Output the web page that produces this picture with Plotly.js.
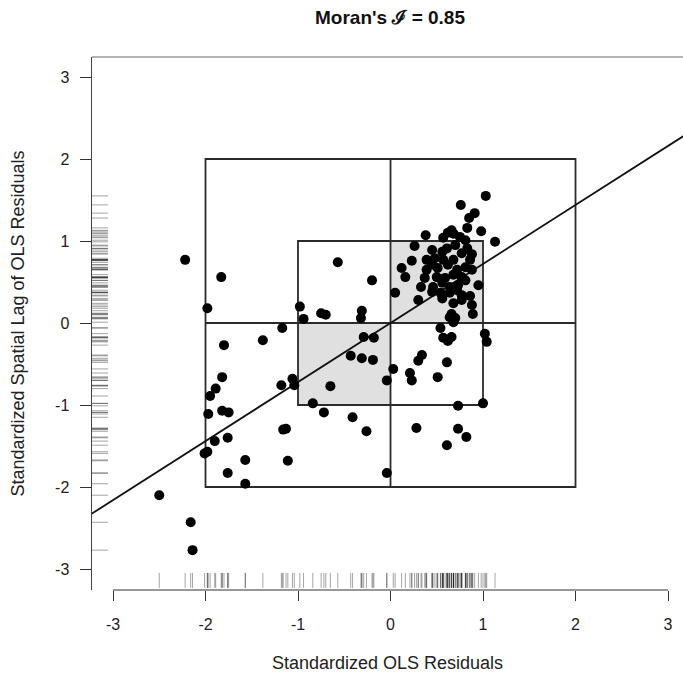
<!DOCTYPE html>
<html>
<head>
<meta charset="utf-8">
<script src="https://cdn.plot.ly/plotly-3.0.1.min.js"></script>
<style>html,body{margin:0;padding:0;background:#fff;}#chart{width:683px;height:679px;}</style>
</head>
<body>
<div id="chart"></div>
<script>
// Standardized OLS residuals (x) and their spatial lag (y)
const residuals = [
 -2.22,-1.83,-1.98,-0.98,-0.94,-0.75,-0.70,-0.57,-0.20,-0.31,-0.32,-1.17,-1.38,-1.80,-0.29,-0.18,-0.43,-0.31,-0.19,-1.82,
 -1.06,-1.89,-1.95,-1.97,-1.82,-1.75,-1.90,-1.76,-2.01,-1.98,-1.57,-1.76,-1.57,-2.50,-2.16,-2.14,-1.18,-1.04,-0.65,-0.84,
 -0.72,-0.41,-0.26,-1.16,-1.13,-1.11,-0.04,-0.04,0.68,0.54,0.57,0.62,0.66,1.02,1.04,0.34,0.30,0.61,0.03,0.21,
 0.23,0.51,0.73,1.00,0.28,0.73,0.82,0.61,1.03,0.76,0.91,0.85,0.83,0.98,1.13,0.38,0.62,0.68,0.57,0.75,
 0.81,0.83,0.26,0.56,0.23,0.39,0.48,0.57,0.68,0.77,0.86,0.88,0.12,0.16,0.39,0.45,0.51,0.62,0.72,0.81,
 0.88,0.37,0.50,0.59,0.68,0.77,0.33,0.46,0.56,0.64,0.73,0.81,0.95,0.45,0.54,0.64,0.72,0.77,0.86,0.05,
 0.30,0.56,0.77,0.68,0.88,0.89,0.66,0.70,0.64,0.70,0.61,0.45,0.66
];
const spatialLag = [
 0.77,0.56,0.18,0.20,0.05,0.12,0.10,0.74,0.52,0.15,0.06,-0.06,-0.21,-0.27,-0.17,-0.18,-0.40,-0.43,-0.45,-0.66,
 -0.68,-0.80,-0.89,-1.11,-1.07,-1.09,-1.44,-1.40,-1.59,-1.57,-1.67,-1.83,-1.96,-2.10,-2.43,-2.77,-0.76,-0.76,-0.77,-0.98,
 -1.09,-1.15,-1.32,-1.30,-1.29,-1.68,-0.70,-1.83,0.01,-0.06,-0.18,-0.22,-0.17,-0.13,-0.23,-0.39,-0.46,-0.48,-0.56,-0.61,
 -0.70,-0.66,-1.01,-0.98,-1.28,-1.29,-1.39,-1.49,1.55,1.44,1.34,1.28,1.16,1.12,0.99,1.07,1.10,1.09,1.04,1.05,
 1.01,0.91,0.94,0.87,0.76,0.77,0.79,0.77,0.77,0.85,0.77,0.84,0.67,0.56,0.65,0.71,0.67,0.71,0.65,0.68,
 0.65,0.55,0.56,0.55,0.59,0.56,0.44,0.44,0.49,0.44,0.46,0.52,0.46,0.38,0.37,0.37,0.40,0.34,0.33,0.37,
 0.28,0.30,0.28,0.24,0.22,0.11,0.11,0.06,0.07,0.95,0.91,0.89,1.13
];
const fitSlope = 0.72;
const tickValues = [-3,-2,-1,0,1,2,3];
const tickLabels = ['-3','-2','-1','0','1','2','3'];
const titleText = "Moran's \u2110 = 0.85";
const xLabel = 'Standardized OLS Residuals';
const yLabel = 'Standardized Spatial Lag of OLS Residuals';

const FONT = "'Liberation Sans', Arial, sans-serif";
const boxLine = {color: '#2b2b2b', width: 1.8};

const shapes = [];
// shaded quadrants
shapes.push({type:'rect', xref:'x', yref:'y', x0:0, x1:1, y0:0, y1:1, fillcolor:'#e0e0e0', line:{width:0}, layer:'below'});
shapes.push({type:'rect', xref:'x', yref:'y', x0:-1, x1:0, y0:-1, y1:0, fillcolor:'#e0e0e0', line:{width:0}, layer:'below'});
// outer and inner squares, cross lines
shapes.push({type:'rect', xref:'x', yref:'y', x0:-2, x1:2, y0:-2, y1:2, line:boxLine, layer:'below'});
shapes.push({type:'rect', xref:'x', yref:'y', x0:-1, x1:1, y0:-1, y1:1, line:boxLine, layer:'below'});
shapes.push({type:'line', xref:'x', yref:'y', x0:0, x1:0, y0:-2, y1:2, line:boxLine, layer:'below'});
shapes.push({type:'line', xref:'x', yref:'y', x0:-2, x1:2, y0:0, y1:0, line:boxLine, layer:'below'});
// rugs
const rugColor = 'rgba(0,0,0,0.36)';
residuals.forEach(v => shapes.push({type:'line', xref:'x', yref:'paper', x0:v, x1:v, y0:0.004, y1:0.032, line:{color:rugColor, width:1}}));
spatialLag.forEach(v => shapes.push({type:'line', xref:'paper', yref:'y', x0:0, x1:0.027, y0:v, y1:v, line:{color:rugColor, width:1}}));
// top frame (gray) and x axis line spanning the ticks
shapes.push({type:'line', xref:'paper', yref:'paper', x0:0, x1:1, y0:1, y1:1, line:{color:'#b4b4b4', width:2}});
shapes.push({type:'line', xref:'x', yref:'paper', x0:tickValues[0], x1:tickValues[tickValues.length-1], y0:0, y1:0, line:{color:'#333', width:1.2}});

const lineX = [-3.5, 3.5];
const traces = [
  {x: lineX, y: lineX.map(v => v*fitSlope), mode:'lines', line:{color:'#111', width:1.8}, hoverinfo:'skip', showlegend:false},
  {x: residuals, y: spatialLag, mode:'markers', marker:{color:'#000', size:10, line:{width:0}}, showlegend:false}
];

const axisCommon = {
  tickmode:'array', tickvals:tickValues, ticktext:tickLabels,
  ticks:'outside', tickcolor:'#333', tickwidth:1,
  showgrid:false, zeroline:false,
  tickfont:{family:FONT, size:16, color:'#222'},
  automargin:false
};

const layout = {
  width:683, height:679,
  margin:{l:92, r:0, t:57, b:89},
  paper_bgcolor:'#fff', plot_bgcolor:'#fff',
  title:{text:titleText, font:{family:FONT, size:19, color:'#111', weight:'bold'}, x:390/683, xref:'container', xanchor:'center', y:1-17/679, yref:'container', yanchor:'middle'},
  xaxis:Object.assign({}, axisCommon, {range:[-3.227, 3.162], showline:false, ticklen:10, ticklabelstandoff:10,
    title:{text:xLabel, font:{family:FONT, size:18, color:'#222'}, standoff:24}}),
  yaxis:Object.assign({}, axisCommon, {range:[-3.256, 3.244], showline:true, linecolor:'#444', linewidth:1.5, ticklen:11, ticklabelstandoff:7,
    title:{text:yLabel, font:{family:FONT, size:18, color:'#222'}, standoff:26}}),
  shapes:shapes
};

Plotly.newPlot('chart', traces, layout, {displayModeBar:false, staticPlot:true});
</script>
</body>
</html>
